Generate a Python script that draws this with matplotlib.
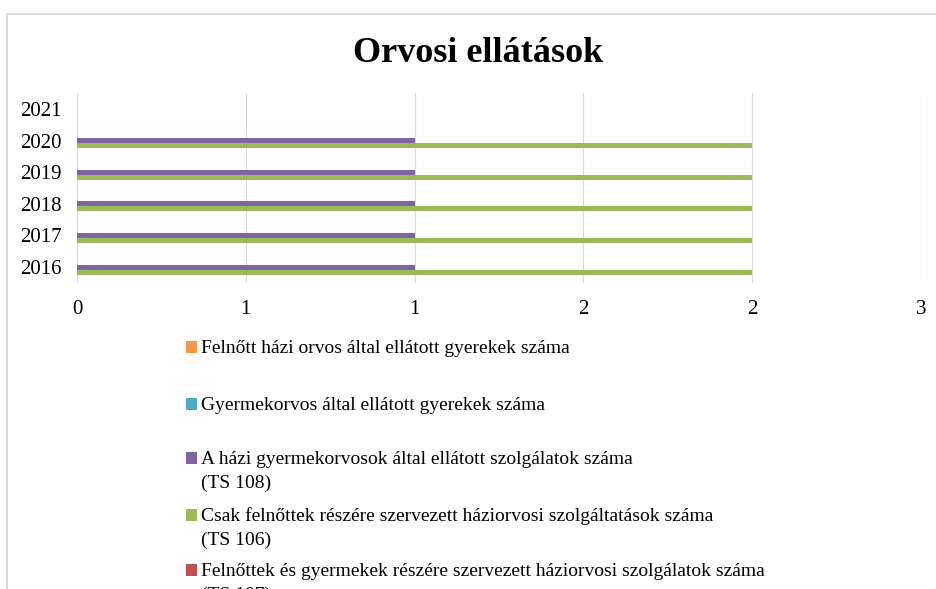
import matplotlib
matplotlib.use("Agg")
import matplotlib.pyplot as plt
from matplotlib.patches import Rectangle
import numpy as np

plt.rcParams['font.family'] = ['Liberation Serif', 'DejaVu Serif']

years = ['2016', '2017', '2018', '2019', '2020', '2021']
title = 'Orvosi ellátások'

# series (Excel order: first series drawn at bottom of each group)
series_names = [
    'Felnőttek és gyermekek részére szervezett háziorvosi szolgálatok száma\n(TS 107)',
    'Csak felnőttek részére szervezett háziorvosi szolgáltatások száma\n(TS 106)',
    'A házi gyermekorvosok által ellátott szolgálatok száma\n(TS 108)',
    'Gyermekorvos által ellátott gyerekek száma',
    'Felnőtt házi orvos által ellátott gyerekek száma',
]
ts107 = [0, 0, 0, 0, 0, 0]
ts106 = [2, 2, 2, 2, 2, 0]
ts108 = [1, 1, 1, 1, 1, 0]
gyermekorvos = [0, 0, 0, 0, 0, 0]
felnott_gyerek = [0, 0, 0, 0, 0, 0]
series_values = [ts107, ts106, ts108, gyermekorvos, felnott_gyerek]
colors = ['#C0504D', '#9BBB59', '#8064A2', '#4BACC6', '#F79646']

x_ticks = [0, 0.5, 1, 1.5, 2, 2.5]
x_ticklabels = ['0', '1', '1', '2', '2', '3']

W, H = 936, 589
fig = plt.figure(figsize=(W / 100, H / 100), dpi=100)

# chart border
fig.patches.append(Rectangle((7.5 / W, -0.1), 1.2, 1 - 13.5 / H + 0.1,
                             transform=fig.transFigure, fill=False,
                             edgecolor='#D9D9D9', lw=1.5, zorder=0))

ax = fig.add_axes([77 / W, 1 - 283 / H, (921 - 77) / W, (283 - 93) / H])
ax.set_xlim(0, 2.5)
ax.set_ylim(-0.5, len(years) - 0.5)

y = np.arange(len(years))
h = 0.158
n = len(series_values)
for i, (vals, c) in enumerate(zip(series_values, colors)):
    off = (i - (n - 1) / 2) * h
    ax.barh(y + off, vals, height=h, color=c, linewidth=0, zorder=3)

ax.set_xticks(x_ticks)
ax.set_xticklabels(x_ticklabels, fontsize=15)
ax.set_yticks(y)
ax.set_yticklabels(years, fontsize=15)
ax.tick_params(axis='both', length=0)
ax.tick_params(axis='x', pad=12)
ax.tick_params(axis='y', pad=11)
ax.grid(axis='x', color='#D9D9D9', lw=0.8, zorder=0)
for s in ax.spines.values():
    s.set_visible(False)

fig.text(478 / W, 1 - 62 / H, title, ha='center', va='baseline',
         fontsize=26, fontweight='bold')

# legend (drawn manually, top to bottom = reverse of series order)
leg_baseline = [353, 410, 464, 521, 576]
line_gap = 24
for k, idx in enumerate(range(n - 1, -1, -1)):
    yy = leg_baseline[k]
    fig.patches.append(Rectangle((186 / W, 1 - (yy - 0.5) / H), 11 / W, 12 / H,
                                 transform=fig.transFigure,
                                 facecolor=colors[idx], edgecolor='none'))
    for j, line in enumerate(series_names[idx].split('\n')):
        fig.text(201 / W, 1 - (yy + j * line_gap) / H, line, ha='left',
                 va='baseline', fontsize=14)

fig.savefig('out.png', dpi=100)
